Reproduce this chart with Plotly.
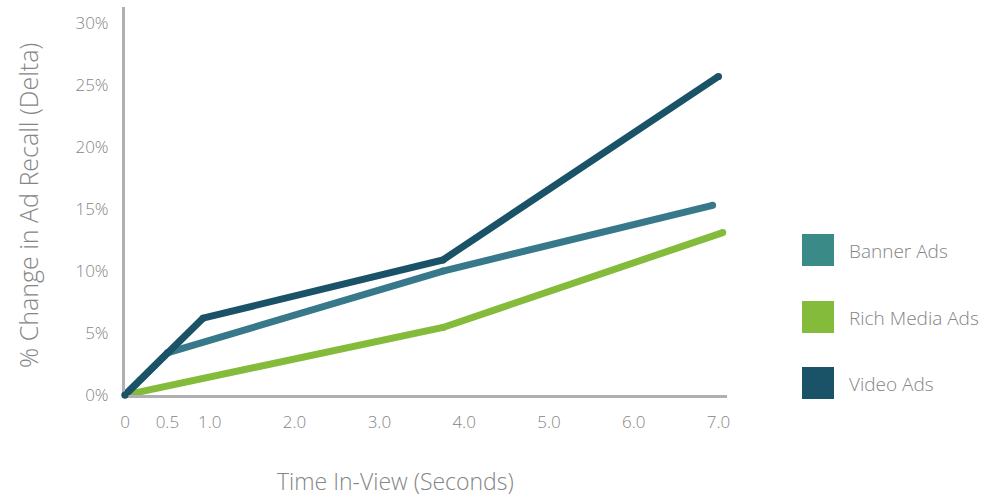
import plotly.graph_objects as go

# ---- data ----
series_names = ["Banner Ads", "Rich Media Ads", "Video Ads"]
line_colors = ["#37798a", "#84bb3a", "#1a5267"]
legend_colors = ["#3a8a88", "#84bb3a", "#1a5267"]

banner_x = [0, 0.5, 3.75, 6.93]
banner_y = [0, 3.4, 10.0, 15.3]

rich_x = [0, 3.75, 7.05]
rich_y = [0, 5.45, 13.1]

video_x = [0, 0.92, 3.75, 7.0]
video_y = [0, 6.2, 10.9, 25.7]

x_tick_vals = [0, 0.5, 1, 2, 3, 4, 5, 6, 7]
x_tick_text = ["0", "0.5", "1.0", "2.0", "3.0", "4.0", "5.0", "6.0", "7.0"]
y_tick_vals = [0, 5, 10, 15, 20, 25, 30]
y_tick_text = ["0%", "5%", "10%", "15%", "20%", "25%", "30%"]

x_title = "Time In-View (Seconds)"
y_title = "% Change in Ad Recall (Delta)"

# ---- figure ----
W, H = 984, 496
ML, MR, MT, MB = 125, 257, 7, 101
PW = W - ML - MR
PH = H - MT - MB
FONT = "'Open Sans', Lato, sans-serif"
GREY = "#858585"

def px_x(p):
    return (p - ML) / PW

def px_y(p):
    return (H - MB - p) / PH

fig = go.Figure()
series = {
    "Rich Media Ads": (rich_x, rich_y),
    "Banner Ads": (banner_x, banner_y),
    "Video Ads": (video_x, video_y),
}
for name in ["Rich Media Ads", "Banner Ads", "Video Ads"]:
    xs, ys = series[name]
    c = line_colors[series_names.index(name)]
    fig.add_trace(go.Scatter(
        x=xs, y=ys, mode="lines+markers", name=name,
        line=dict(color=c, width=7),
        marker=dict(color=c, size=7, line=dict(width=0)),
        cliponaxis=False, showlegend=False, hoverinfo="skip",
    ))

# custom legend: squares + labels
legend_centers = [250, 317, 383]
for name, col, cy in zip(series_names, legend_colors, legend_centers):
    fig.add_shape(type="rect", xref="paper", yref="paper",
                  x0=px_x(802), x1=px_x(834), y0=px_y(cy + 16), y1=px_y(cy - 16),
                  fillcolor=col, line=dict(width=0))
    fig.add_annotation(x=px_x(847), y=px_y(cy + 1), xref="paper", yref="paper",
                       text=name, showarrow=False, xanchor="left", yanchor="middle",
                       font=dict(family=FONT, size=19, color=GREY, weight=300))

# axis titles
fig.add_annotation(x=px_x(395), y=px_y(481), xref="paper", yref="paper",
                   text=x_title, showarrow=False, xanchor="center", yanchor="middle",
                   font=dict(family=FONT, size=23, color=GREY, weight=300))
fig.add_annotation(x=px_x(28), y=px_y(206), xref="paper", yref="paper",
                   text=y_title, showarrow=False, textangle=-90,
                   xanchor="center", yanchor="middle",
                   font=dict(family=FONT, size=25, color=GREY, weight=300))

fig.update_layout(
    width=W, height=H,
    margin=dict(l=ML, r=MR, t=MT, b=MB),
    paper_bgcolor="white", plot_bgcolor="white",
    showlegend=False,
    font=dict(family=FONT, color=GREY, size=17, weight=300),
)
fig.update_xaxes(
    range=[0, 7.1], tickvals=x_tick_vals, ticktext=x_tick_text,
    showgrid=False, zeroline=False, showline=True, linecolor="#b0b0b4", linewidth=3,
    ticks="outside", ticklen=10, tickcolor="rgba(0,0,0,0)",
    tickfont=dict(family=FONT, size=17, color=GREY, weight=300),
    layer="below traces", fixedrange=True,
)
fig.update_yaxes(
    range=[0, 31.3], tickvals=y_tick_vals, ticktext=y_tick_text,
    showgrid=False, zeroline=False, showline=True, linecolor="#b0b0b4", linewidth=3,
    ticks="outside", ticklen=10, tickcolor="rgba(0,0,0,0)",
    tickfont=dict(family=FONT, size=17, color=GREY, weight=300),
    layer="below traces", fixedrange=True,
)

fig.write_html("out.html", config={"displayModeBar": False})
